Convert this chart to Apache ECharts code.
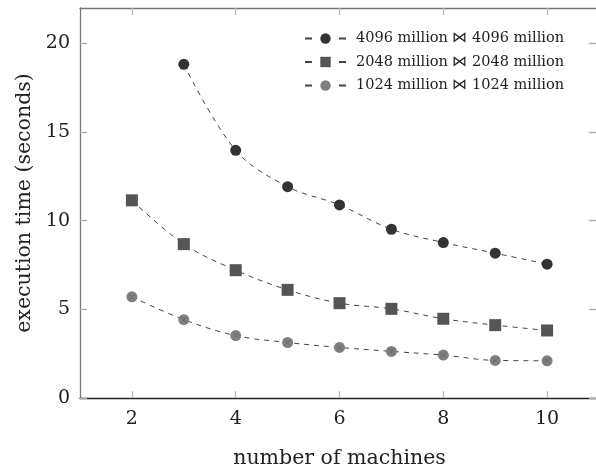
<!DOCTYPE html>
<html lang="en">
<head>
    <meta charset="UTF-8">
    <title>execution time</title>
    <style>
        * { padding: 0; margin: 0; }
        html, body { height: 100%; width: 100%; background: #fff; }
        #chart { width: 596px; height: 470px; }
    </style>
</head>
<body>
    <div id="chart"></div>
    <script src="https://cdn.jsdelivr.net/npm/echarts@6/dist/echarts.min.js"></script>
    <script type="text/javascript">
        // data
        const machines = [2, 3, 4, 5, 6, 7, 8, 9, 10];
        const t4096 = [null, 18.82, 13.97, 11.92, 10.89, 9.52, 8.77, 8.17, 7.55];
        const t2048 = [11.15, 8.68, 7.21, 6.10, 5.35, 5.03, 4.47, 4.11, 3.81];
        const t1024 = [5.71, 4.42, 3.52, 3.13, 2.85, 2.63, 2.42, 2.12, 2.10];
        const names = ['4096 million ⋈ 4096 million', '2048 million ⋈ 2048 million', '1024 million ⋈ 1024 million'];
        const xTicks = [2, 4, 6, 8, 10];
        const yTicks = [0, 5, 10, 15, 20];

        const pairs = (vals) => machines.map((m, i) => [m, vals[i]]).filter(p => p[1] !== null);
        const font = 'DejaVu Serif';
        const crossPath = 'path://M0,1L1,0L10,9L9,10Z M9,0L10,1L1,10L0,9Z';

        const lineSeries = (name, vals, symbol, size, color) => ({
            name: name,
            type: 'line',
            data: pairs(vals),
            smooth: 0.35,
            symbol: symbol,
            symbolSize: size,
            showSymbol: true,
            itemStyle: { color: color },
            lineStyle: { color: '#444', width: 1, type: [5, 5] },
            z: 3
        });

        const myChart = echarts.init(document.getElementById('chart'));
        const option = {
            backgroundColor: '#fff',
            animation: false,
            textStyle: { fontFamily: font },
            grid: { left: 80, right: -3, top: 8, bottom: 72, outerBoundsMode: 'none', containLabel: false },
            legend: {
                orient: 'vertical',
                left: 299,
                top: 26,
                itemWidth: 41,
                itemHeight: 13,
                itemGap: 8.5,
                data: names,
                lineStyle: { type: [7, 27], color: '#444' },
                textStyle: { fontFamily: font, fontSize: 14.5, color: '#222', padding: [0, 0, 0, 5] }
            },
            xAxis: [{
                type: 'value',
                min: 1,
                max: 11,
                name: 'number of machines',
                nameLocation: 'middle',
                nameGap: 50,
                nameTextStyle: { fontFamily: font, fontSize: 20.5, color: '#222' },
                axisLine: { onZero: false, lineStyle: { color: '#222', width: 1.3 } },
                axisTick: { inside: true, length: 7, customValues: xTicks, lineStyle: { color: '#bbb', width: 1.3 } },
                axisLabel: { customValues: xTicks, margin: 12, fontFamily: font, fontSize: 19, color: '#222' },
                splitLine: { show: false }
            }, {
                type: 'value',
                position: 'top',
                min: 1,
                max: 11,
                axisLine: { onZero: false, lineStyle: { color: '#777', width: 1.3 } },
                axisTick: { inside: true, length: 7, customValues: xTicks, lineStyle: { color: '#bbb', width: 1.3 } },
                axisLabel: { show: false },
                splitLine: { show: false }
            }],
            yAxis: [{
                type: 'value',
                min: 0,
                max: 22,
                name: 'execution time (seconds)',
                nameLocation: 'middle',
                nameGap: 43,
                nameTextStyle: { fontFamily: font, fontSize: 20.5, color: '#222' },
                axisLine: { show: true, onZero: false, lineStyle: { color: '#777', width: 1.3 } },
                axisTick: { show: true, inside: true, length: 7, customValues: yTicks, lineStyle: { color: '#aaa', width: 1.3 } },
                axisLabel: { customValues: yTicks, margin: 10, fontFamily: font, fontSize: 19, color: '#222' },
                splitLine: { show: false }
            }, {
                // right side sits just past the image edge, only its ticks show
                type: 'value',
                position: 'right',
                min: 0,
                max: 22,
                axisLine: { show: false, onZero: false },
                axisTick: { show: true, inside: true, length: 10, customValues: yTicks, lineStyle: { color: '#aaa', width: 1.3 } },
                axisLabel: { show: false },
                splitLine: { show: false }
            }],
            series: [
                lineSeries(names[0], t4096, 'circle', 11, '#333333'),
                lineSeries(names[1], t2048, 'rect', 12, '#555555'),
                lineSeries(names[2], t1024, 'circle', 11, '#808080'),
                {
                    type: 'scatter',
                    data: pairs(t1024),
                    symbol: crossPath,
                    symbolSize: 6,
                    itemStyle: { color: '#666' },
                    silent: true,
                    z: 4
                }
            ]
        };
        myChart.setOption(option);
    </script>
</body>
</html>
